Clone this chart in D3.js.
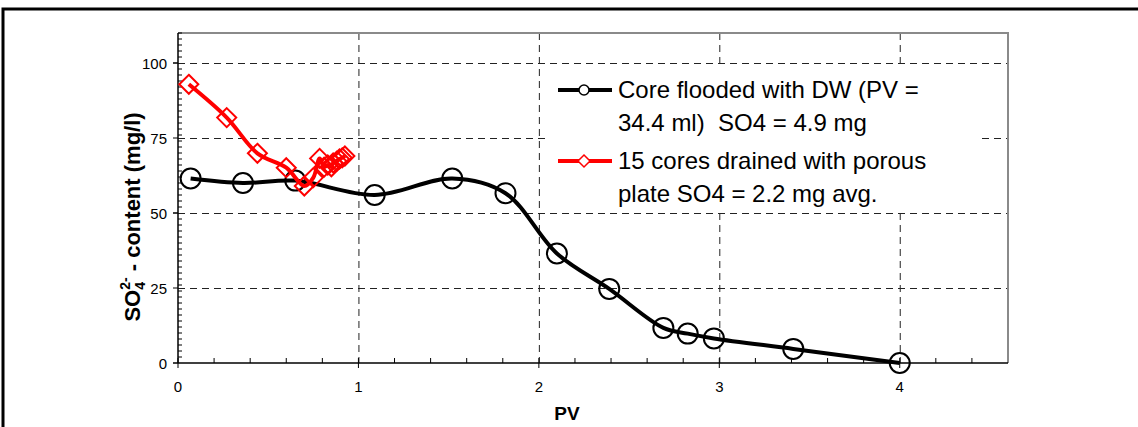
<!DOCTYPE html>
<meta charset="utf-8">
<style>
  body { margin: 0; background: #fff; }
  svg { display: block; font-family: Arial, "Liberation Sans", sans-serif; }
</style>
<svg width="1138" height="427"></svg>
<script src="https://d3js.org/d3.v7.min.js"></script>
<script>

// core flooded with distilled water
var dwPV = [0.07, 0.36, 0.65, 1.09, 1.52, 1.815, 2.10, 2.39, 2.69, 2.825, 2.97, 3.41, 4.0];
var dwSO4 = [61.5, 60, 60.8, 56, 61.5, 56.6, 36.5, 24.7, 11.7, 9.8, 8.2, 4.7, 0];

// 15 cores drained with porous plate
var ppPV = [0.06, 0.27, 0.44, 0.60, 0.70, 0.75, 0.785, 0.81, 0.83, 0.85, 0.86, 0.88, 0.895, 0.91, 0.925];
var ppSO4 = [92.9, 81.8, 69.9, 65.1, 59.0, 61.8, 68.2, 65.3, 66.0, 65.4, 66.7, 67.3, 68.0, 68.4, 69.0];

var xTicks = [0, 1, 2, 3, 4];
var yTicks = [0, 25, 50, 75, 100];

var legendText = [
  ["Core flooded with DW (PV =", "34.4 ml)\u00a0 SO4 = 4.9 mg"],
  ["15 cores drained with porous", "plate SO4 = 2.2 mg avg."]
];

var svg = d3.select("svg");

var pLeft = 178, pRight = 1008, pTop = 33, pBottom = 363;

var x = d3.scaleLinear().domain([0, 4.6]).range([pLeft, pRight]);
var y = d3.scaleLinear().domain([0, 110]).range([pBottom, pTop]);

// outer frame (only top and left visible)
svg.append("path")
    .attr("d", "M3,427V9H1138")
    .attr("fill", "none")
    .attr("stroke", "#000")
    .attr("stroke-width", 3);

// grid
var grid = svg.append("g")
    .attr("stroke", "#222")
    .attr("stroke-width", 1)
    .attr("stroke-dasharray", "7,5");

grid.selectAll(".h")
    .data(yTicks.slice(1))
    .enter().append("line")
      .attr("x1", pLeft).attr("x2", pRight)
      .attr("y1", function(d) { return y(d) + 0.5; })
      .attr("y2", function(d) { return y(d) + 0.5; });

grid.selectAll(".v")
    .data(xTicks.slice(1))
    .enter().append("line")
      .attr("x1", function(d) { return x(d) + 0.5; })
      .attr("x2", function(d) { return x(d) + 0.5; })
      .attr("y1", pTop).attr("y2", pBottom);

// plot border top/right in gray
svg.append("path")
    .attr("d", "M" + pLeft + "," + pTop + "H" + pRight + "V" + pBottom)
    .attr("fill", "none")
    .attr("stroke", "#8a8a8a")
    .attr("stroke-width", 2);

// axes
var axes = svg.append("g").attr("stroke", "#000").attr("stroke-width", 1.5);

axes.append("line").attr("x1", pLeft).attr("x2", pLeft).attr("y1", pTop).attr("y2", pBottom);
axes.append("line").attr("x1", pLeft).attr("x2", pRight).attr("y1", pBottom).attr("y2", pBottom);

axes.selectAll(".ym")
    .data(d3.range(0, 111, 2).concat(yTicks))
    .enter().append("line")
      .attr("stroke-width", 1)
      .attr("x1", pLeft).attr("x2", function(d) { return d % 25 == 0 ? pLeft - 5 : pLeft + 4; })
      .attr("y1", function(d) { return y(d); })
      .attr("y2", function(d) { return y(d); });

axes.selectAll(".xm")
    .data(d3.range(0, 23).map(function(i) { return i * 0.2; }))
    .enter().append("line")
      .attr("stroke-width", 1)
      .attr("x1", function(d) { return x(d); })
      .attr("x2", function(d) { return x(d); })
      .attr("y1", function(d) { return Math.abs(d - Math.round(d)) < 1e-6 ? pBottom + 5 : pBottom; })
      .attr("y2", pBottom - 5);

svg.append("g")
    .attr("font-size", 15)
    .attr("text-anchor", "end")
  .selectAll("text")
    .data(yTicks)
    .enter().append("text")
      .attr("x", 167)
      .attr("y", function(d) { return y(d) + 5.5; })
      .text(function(d) { return d; });

svg.append("g")
    .attr("font-size", 15)
    .attr("text-anchor", "middle")
  .selectAll("text")
    .data(xTicks)
    .enter().append("text")
      .attr("x", function(d) { return x(d); })
      .attr("y", 392)
      .text(function(d) { return d; });

svg.append("text")
    .attr("x", 567)
    .attr("y", 420)
    .attr("text-anchor", "middle")
    .attr("font-size", 19)
    .attr("font-weight", "bold")
    .text("PV");

var yt = svg.append("text")
    .attr("transform", "translate(140,217)rotate(-90)")
    .attr("text-anchor", "middle")
    .attr("font-size", 22)
    .attr("font-weight", "bold");
yt.append("tspan").text("SO");
yt.append("tspan").attr("font-size", 14).attr("dy", 5).text("4");
yt.append("tspan").attr("font-size", 14).attr("dx", -7.8).attr("dy", -15).text("2-");
yt.append("tspan").attr("dy", 10).text(" - content (mg/l)");

// legend background hides the grid
var lg = svg.append("g");
lg.append("rect")
    .attr("x", 549).attr("y", 66)
    .attr("width", 430).attr("height", 146)
    .attr("fill", "#fff");

function diamond(s) {
  return "M0," + (-s) + "L" + s + ",0L0," + s + "L" + (-s) + ",0Z";
}

var line = d3.line()
    .x(function(d) { return x(d[0]); })
    .y(function(d) { return y(d[1]); })
    .curve(d3.curveCatmullRom.alpha(0.5));

var dw = d3.zip(dwPV, dwSO4);
var pp = d3.zip(ppPV, ppSO4);

svg.append("path")
    .attr("d", line(dw))
    .attr("fill", "none")
    .attr("stroke", "#000")
    .attr("stroke-width", 4);

svg.append("g")
  .selectAll("circle")
    .data(dw)
    .enter().append("circle")
      .attr("cx", function(d) { return x(d[0]); })
      .attr("cy", function(d) { return y(d[1]); })
      .attr("r", 10)
      .attr("fill", "none")
      .attr("stroke", "#000")
      .attr("stroke-width", 2);

svg.append("path")
    .attr("d", line(pp))
    .attr("fill", "none")
    .attr("stroke", "#ff0000")
    .attr("stroke-width", 4);

svg.append("g")
  .selectAll("path")
    .data(pp)
    .enter().append("path")
      .attr("transform", function(d) { return "translate(" + x(d[0]) + "," + y(d[1]) + ")"; })
      .attr("d", diamond(9.5))
      .attr("fill", "none")
      .attr("stroke", "#ff0000")
      .attr("stroke-width", 2);

// legend entries
var entries = lg.selectAll(".entry")
    .data(legendText)
    .enter().append("g")
      .attr("transform", function(d, i) { return "translate(0," + (i * 71) + ")"; });

entries.append("line")
    .attr("x1", 558).attr("x2", 612)
    .attr("y1", 90).attr("y2", 90)
    .attr("stroke", function(d, i) { return i ? "#ff0000" : "#000"; })
    .attr("stroke-width", 4);

entries.append("path")
    .attr("transform", "translate(584,90)")
    .attr("d", function(d, i) {
      return i ? diamond(6) : d3.arc()({ innerRadius: 0, outerRadius: 5, startAngle: 0, endAngle: 2 * Math.PI });
    })
    .attr("fill", "#fff")
    .attr("stroke", function(d, i) { return i ? "#ff0000" : "#000"; })
    .attr("stroke-width", 1.5);

entries.selectAll("text")
    .data(function(d) { return d; })
    .enter().append("text")
      .attr("x", 618)
      .attr("y", function(d, j) { return 98 + j * 32.5; })
      .attr("font-size", 24)
      .text(function(d) { return d; });

</script>
